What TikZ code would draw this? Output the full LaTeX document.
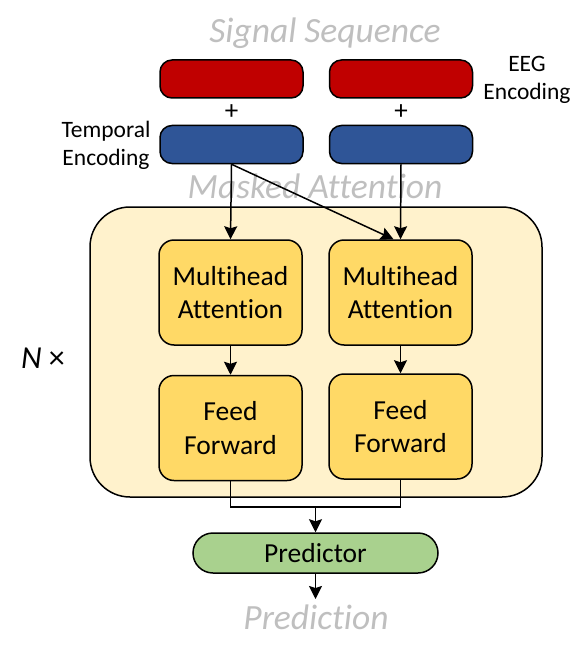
\documentclass[tikz,border=0pt]{standalone}
\usepackage{fontspec}
\setmainfont{Carlito}[Ligatures=NoCommon]
\usetikzlibrary{arrows.meta}
\definecolor{encred}{HTML}{C00000}
\definecolor{encblue}{HTML}{2F5597}
\definecolor{contfill}{HTML}{FFF2CC}
\definecolor{boxfill}{HTML}{FFD966}
\definecolor{predfill}{HTML}{A9D18E}
\definecolor{lightgray}{HTML}{BFBFBF}
\begin{document}
\begin{tikzpicture}[x=1pt,y=-1pt,
  encbox/.style={draw=black,line width=1.5pt,rounded corners=12pt,minimum width=143pt,minimum height=38pt,inner sep=0pt},
  redbox/.style={encbox,fill=encred},
  bluebox/.style={encbox,fill=encblue},
  yelbox/.style={draw=black,line width=1.5pt,fill=boxfill,rounded corners=15pt,minimum width=143pt,minimum height=105pt,inner sep=0pt,align=center,font=\fontsize{27.5}{33.5}\selectfont},
  container/.style={draw=black,line width=1.5pt,fill=contfill,rounded corners=40pt,minimum width=452pt,minimum height=290pt,inner sep=0pt},
  predbox/.style={draw=black,line width=1.5pt,fill=predfill,rounded corners=20pt,minimum width=245pt,minimum height=40pt,inner sep=0pt,font=\fontsize{27.5}{30}\selectfont},
  graytext/.style={text=lightgray,font=\fontsize{35.5}{40}\selectfont\itshape,inner sep=0pt},
  lbl/.style={font=\fontsize{23.5}{28}\selectfont,align=center,inner sep=0pt},
  conn/.style={line width=1.5pt},
  arr/.style={conn,-{Stealth[length=13pt,width=13pt,inset=2pt]}}
]
\useasboundingbox (0,0) rectangle (582,658);
\node[graytext] (sig) at (325,33) {Signal Sequence};
\node[redbox] (r1) at (231.5,79) {};
\node[redbox] (r2) at (401,79) {};
\node[lbl,font=\fontsize{27}{28}\selectfont] (p1) at (231.5,112) {+};
\node[lbl,font=\fontsize{27}{28}\selectfont] (p2) at (401,112) {+};
\node[bluebox] (b1) at (231.5,144.5) {};
\node[bluebox] (b2) at (401,144.5) {};
\node[lbl] (eeg) at (527,80) {EEG\\Encoding};
\node[lbl] (temp) at (106,145) {Temporal\\Encoding};
\node[container] (cont) at (316,352) {};
\node[graytext] (mask) at (315,186) {Masked Attention};
\node[yelbox] (m1) at (230.5,292.5) {Multihead\\Attention};
\node[yelbox] (m2) at (400.5,292.5) {Multihead\\Attention};
\node[yelbox] (f1) at (230.5,428) {Feed\\Forward};
\node[yelbox] (f2) at (400.5,426.5) {Feed\\Forward};
\node[font=\fontsize{32}{34}\selectfont,inner sep=0pt] (nx) at (43,358) {\textit{N} ×};
\node[predbox] (pr) at (315.5,553) {Predictor};
\node[graytext] (pn) at (316,617) {Prediction};
\coordinate (j) at (315.5,507);
\coordinate (out) at (315.5,599);
\draw[arr] (b1.south) -- (m1.north);
\draw[arr] (b2.south) -- (m2.north);
\draw[arr] (b1.south) -- ([xshift=-7pt]m2.north);
\draw[arr] (m1.south) -- (f1.north);
\draw[arr] (m2.south) -- (f2.north);
\draw[conn] (f1.south) -- (f1.south |- j) -- (f2.south |- j) -- (f2.south);
\draw[arr] (j) -- (pr.north);
\draw[arr] (pr.south) -- (out);
\end{tikzpicture}
\end{document}
